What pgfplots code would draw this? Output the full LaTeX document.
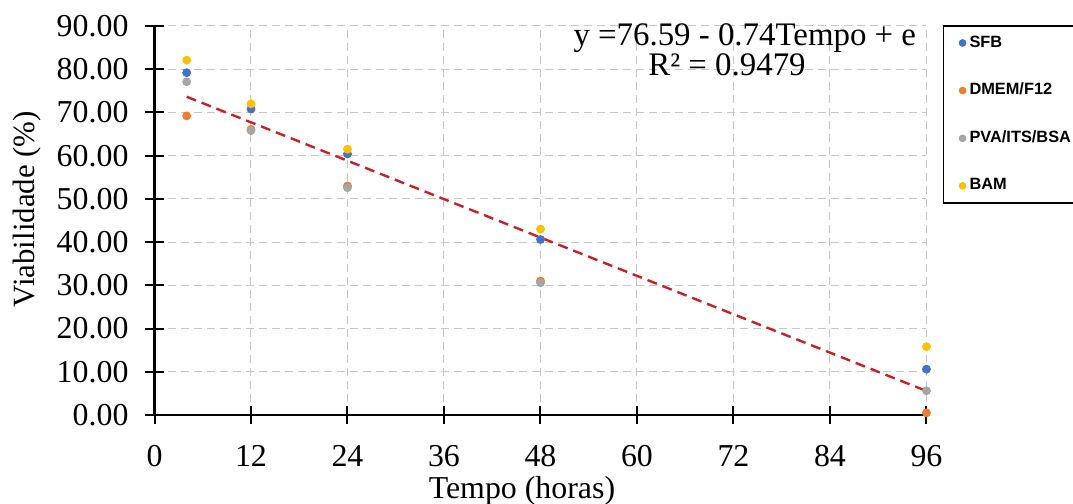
\documentclass[border=0pt]{standalone}
\usepackage{pgfplots}
\pgfplotsset{compat=1.18}
\usepackage{fontspec}
\setmainfont{Liberation Serif}
\newfontfamily\arial{Liberation Sans}
\definecolor{sfb}{RGB}{68,114,196}
\definecolor{dmem}{RGB}{237,125,49}
\definecolor{pva}{RGB}{165,165,165}
\definecolor{bam}{RGB}{255,192,0}
\definecolor{trend}{RGB}{195,35,40}

\begin{document}
\begin{tikzpicture}
\path[use as bounding box] (0,0) rectangle (536.5bp,252bp);
\begin{axis}[
  at={(77.25bp,44.5bp)}, anchor=south west,
  scale only axis,
  width=386bp, height=194.5bp,
  xmin=0, xmax=96, ymin=0, ymax=90,
  xtick={0,12,...,96},
  ytick={0,10,...,90},
  axis lines=left,
  axis line style={-, line width=1.2bp, black},
  tick align=center,
  major tick length=9bp,
  every tick/.style={black, line width=1bp},
  tick label style={font=\fontsize{16}{18}\selectfont},
  /pgf/number format/assume math mode=true,
  yticklabel style={xshift=-5bp, /pgf/number format/.cd, fixed, fixed zerofill, precision=2},
  xticklabel style={yshift=-7bp, /pgf/number format/.cd, fixed, precision=0},
  grid=major,
  grid style={gray!45, line width=0.5bp, dash pattern=on 4bp off 2.5bp},
  clip=false,
  xlabel={Tempo (horas)},
  ylabel={Viabilidade (\%)},
  every axis x label/.style={at={(axis description cs:0.476,-0.214)}, anchor=base,
    font=\fontsize{16}{18}\selectfont},
  every axis y label/.style={at={(axis description cs:-0.165,0.529)}, anchor=center, rotate=90,
    font=\fontsize{15.5}{18}\selectfont},
  legend style={at={(1,1)}, anchor=north west, xshift=8.15bp, yshift=0.5bp,
    draw=black, line width=0.8bp, font=\arial\bfseries\fontsize{8.2}{9.5}\selectfont,
    row sep=12.5bp, inner xsep=8bp, inner ysep=3bp,
    text width=62bp},
  legend cell align=left,
  legend image code/.code={\draw[mark repeat=1,#1,mark size=1.5bp] plot coordinates {(0bp,0bp)};},
]
\addplot[only marks, mark=*, mark size=2bp, color=sfb] coordinates {
  (4,79.2) (12,70.8) (24,60.4) (48,40.6) (96,10.6)
};
\addlegendentry{SFB}
\addplot[only marks, mark=*, mark size=2bp, color=dmem] coordinates {
  (4,69.2) (12,66.1) (24,53.0) (48,31.0) (96,0.5)
};
\addlegendentry{DMEM/F12}
\addplot[only marks, mark=*, mark size=2bp, color=pva] coordinates {
  (4,77.1) (12,65.8) (24,52.6) (48,30.6) (96,5.6)
};
\addlegendentry{PVA/ITS/BSA}
\addplot[only marks, mark=*, mark size=2bp, color=bam] coordinates {
  (4,82.1) (12,72.0) (24,61.5) (48,43.0) (96,15.8)
};
\addlegendentry{BAM}
\addplot[trend, line width=1.2bp, dash pattern=on 5bp off 3bp, forget plot] coordinates {
  (4,73.63) (96,5.55)
};
\node[font=\fontsize{16.5}{18}\selectfont, anchor=base, inner sep=0pt] at (axis cs:73.4,85.5)
  {y =76.59 - 0.74Tempo + e};
\node[font=\fontsize{16.5}{18}\selectfont, anchor=base, inner sep=0pt] at (axis cs:71.2,78.5)
  {R² = 0.9479};
\end{axis}
\end{tikzpicture}
\end{document}
